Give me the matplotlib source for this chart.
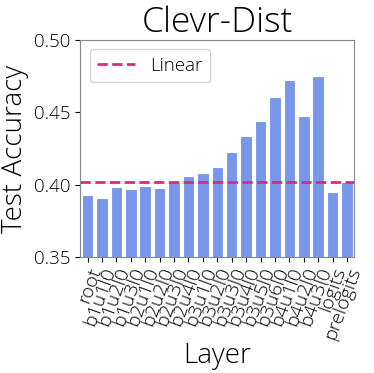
import matplotlib
matplotlib.use('Agg')
import matplotlib.pyplot as plt

plt.rcParams['font.family'] = ['Open Sans', 'DejaVu Sans']

layers = ['root', 'b1u1l0', 'b1u2l0', 'b1u3l0', 'b2u1l0', 'b2u2l0', 'b2u3l0',
          'b2u4l0', 'b3u1l0', 'b3u2l0', 'b3u3l0', 'b3u4l0', 'b3u5l0', 'b3u6l0',
          'b4u1l0', 'b4u2l0', 'b4u3l0', 'logits', 'prelogits']
acc = [0.3929, 0.3908, 0.3986, 0.3975, 0.3993, 0.3979, 0.4021,
       0.4062, 0.4083, 0.4120, 0.4228, 0.4334, 0.4438, 0.4604,
       0.4721, 0.4477, 0.4751, 0.3952, 0.4021]
linear = 0.402

fig, ax = plt.subplots(figsize=(3.74, 3.73), dpi=100)
ax.bar(range(len(layers)), acc, width=0.8, color='#7897EB', edgecolor='white', linewidth=0.8)
ax.axhline(linear, color='#E0287A', linestyle='--', linewidth=2, label='Linear')

ax.set_ylim(0.35, 0.50)
ax.set_xlim(-0.5, len(layers) - 0.5)
ax.set_yticks([0.35, 0.40, 0.45, 0.50])
ax.set_xticks(range(len(layers)))
ax.set_xticklabels(layers, rotation=70, ha='right', rotation_mode='anchor', fontweight='light')
ax.tick_params(axis='y', labelsize=13.5)
ax.tick_params(axis='x', labelsize=14, pad=2)
for lab in ax.get_yticklabels():
    lab.set_fontweight('light')
for s in ax.spines.values():
    s.set_color('#888888')

ax.set_title('Clevr-Dist', fontsize=25.5, fontweight='light')
ax.set_ylabel('Test Accuracy', fontsize=20, fontweight='light')
ax.set_xlabel('Layer', fontsize=20, fontweight='light', labelpad=0)
ax.legend(loc='upper left', prop={'weight': 'light', 'size': 13.5})

fig.subplots_adjust(left=0.215, right=0.947, top=0.893, bottom=0.31)
fig.savefig('out.png', dpi=100)
